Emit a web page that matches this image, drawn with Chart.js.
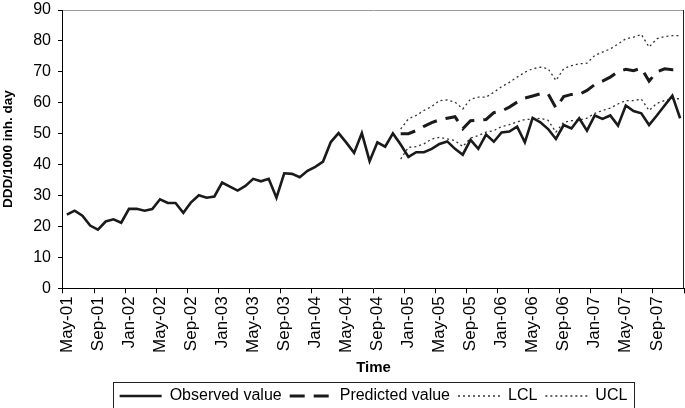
<!DOCTYPE html>
<html>
<head>
<meta charset="utf-8">
<script src="https://cdn.jsdelivr.net/npm/chart.js@4.4.1/dist/chart.umd.min.js"></script>
<style>
  html, body { margin: 0; padding: 0; background: #fff; }
  #wrap { width: 685px; height: 408px; }
</style>
</head>
<body>
<div id="wrap"><canvas id="chart" width="685" height="408"></canvas></div>
<script>
const monthNames = ["Jan", "Feb", "Mar", "Apr", "May", "Jun", "Jul", "Aug", "Sep", "Oct", "Nov", "Dec"];

// monthly series, May-01 .. Dec-07
const observed = [
  23.8, 25.1, 23.5, 20.3, 19.0, 21.6, 22.3, 21.2,
  25.7, 25.7, 25.1, 25.6, 28.8, 27.6, 27.6, 24.4, 27.8, 30.1, 29.3, 29.7,
  34.2, 32.9, 31.6, 33.1, 35.4, 34.6, 35.4, 29.3, 37.2, 37.0, 35.9, 38.0,
  39.3, 41.0, 47.3, 50.2, 47.1, 43.8, 50.2, 41.1, 47.2, 45.8, 50.1, 46.5,
  42.5, 44.0, 44.0, 45.1, 46.7, 47.5, 45.1, 43.2, 48.0, 45.1, 49.7, 47.4,
  50.4, 50.7, 52.3, 47.2, 55.1, 53.7, 51.5, 48.3, 52.8, 51.7, 55.0, 51.0,
  55.9, 54.8, 55.9, 52.6, 59.1, 57.3, 56.6, 52.8, 55.9, 59.1, 62.3, 55.0,
];

// forecast part starts at Dec-04 (everything before it is empty)
const forecastStart = 43;
const predicted = [
  50.0, 50.0, 51.0, 52.4, 53.6, 54.5, 55.0, 55.5, 51.6, 54.2, 54.4, 54.6,
  56.8, 57.3, 58.6, 60.2, 61.5, 62.2, 62.9, 62.9, 58.3, 62.0, 62.7, 62.7,
  64.0, 65.9, 67.0, 68.3, 70.0, 70.8, 70.4, 71.2, 67.0, 70.0, 71.0, 70.7, 70.8,
];
const lcl = [
  41.8, 45.6, 45.8, 46.7, 48.3, 48.8, 48.3, 47.8, 45.8, 48.6, 49.4, 50.5,
  51.0, 52.3, 52.9, 53.8, 54.6, 54.7, 55.0, 54.3, 50.5, 53.7, 54.2, 54.4,
  55.0, 56.6, 57.5, 58.3, 59.6, 60.7, 60.7, 61.2, 57.5, 59.8, 60.7, 61.3, 61.3,
];
const ucl = [
  51.5, 54.8, 55.9, 57.5, 58.8, 60.7, 60.9, 60.2, 58.0, 61.2, 61.8, 61.8,
  63.4, 65.2, 66.6, 68.3, 69.9, 71.0, 71.5, 71.0, 67.2, 71.0, 72.0, 72.6,
  72.8, 75.3, 76.4, 77.4, 79.0, 80.7, 81.2, 82.1, 78.0, 80.7, 81.4, 81.7, 81.7,
];

const yTicks = [0, 10, 20, 30, 40, 50, 60, 70, 80, 90];

const labels = observed.map((_, i) => {
  const m = (4 + i) % 12;
  const yr = 1 + Math.floor((4 + i) / 12);
  return `${monthNames[m]}-${String(yr).padStart(2, "0")}`;
});

function padForecast(values) {
  return Array(forecastStart).fill(null).concat(values);
}

const FONT = "'Liberation Sans', Arial, sans-serif";
const INK = "#1a1a1a";

// frame on top/right of the plot, box around the legend
const framePlugin = {
  id: "frame",
  afterDraw(chart) {
    const { ctx, chartArea } = chart;
    ctx.save();
    ctx.lineWidth = 1;
    ctx.strokeStyle = "#9a9a9a";
    ctx.beginPath();
    ctx.moveTo(chartArea.left, Math.round(chartArea.top) + 0.5);
    ctx.lineTo(chartArea.right, Math.round(chartArea.top) + 0.5);
    ctx.stroke();
    ctx.strokeStyle = "#222";
    ctx.beginPath();
    ctx.moveTo(chartArea.right - 0.5, chartArea.top);
    ctx.lineTo(chartArea.right - 0.5, chartArea.bottom);
    ctx.stroke();

    const boxes = chart.legend.legendHitBoxes;
    if (boxes && boxes.length) {
      const left = Math.min(...boxes.map((b) => b.left)) - 7;
      const right = Math.max(...boxes.map((b) => b.left + b.width)) + 6;
      const top = Math.min(...boxes.map((b) => b.top)) - 6;
      const bottom = Math.max(...boxes.map((b) => b.top + b.height)) + 5;
      ctx.strokeStyle = "#222";
      ctx.strokeRect(Math.round(left) + 0.5, Math.round(top) + 0.5, Math.round(right - left), Math.round(bottom - top));
    }
    ctx.restore();
  },
};

new Chart(document.getElementById("chart").getContext("2d"), {
  type: "line",
  data: {
    labels,
    datasets: [
      { label: "Observed value", data: observed, borderColor: INK, borderWidth: 2.6 },
      { label: "Predicted value", data: padForecast(predicted), borderColor: INK, borderWidth: 3, borderDash: [15, 9] },
      { label: "LCL", data: padForecast(lcl), borderColor: "#333", borderWidth: 1.3, borderDash: [2, 3] },
      { label: "UCL", data: padForecast(ucl), borderColor: "#333", borderWidth: 1.3, borderDash: [2, 3] },
    ],
  },
  options: {
    responsive: false,
    animation: false,
    layout: { padding: { top: 0, right: 1, bottom: -6, left: 0 } },
    elements: { point: { radius: 0 }, line: { tension: 0, borderJoinStyle: "miter" } },
    scales: {
      x: {
        offset: true,
        afterFit(axis) {
          axis.paddingLeft = 0;
          axis.paddingRight = 0;
        },
        grid: {
          offset: true,
          drawOnChartArea: false,
          tickLength: 5,
          tickColor: (c) => (c.index === undefined || c.index % 4 === 0 ? "#000" : "rgba(0,0,0,0)"),
          color: "rgba(0,0,0,0)",
        },
        border: { color: "#000", width: 1 },
        ticks: {
          autoSkip: false,
          minRotation: 90,
          maxRotation: 90,
          padding: 3,
          color: "#000",
          font: { family: FONT, size: 17 },
          callback: (value, i) => (i % 4 === 0 ? labels[i] : ""),
        },
        title: {
          display: true,
          text: "Time",
          color: "#000",
          font: { family: FONT, size: 15, weight: "bold" },
          padding: { top: 3, bottom: 3 },
        },
      },
      y: {
        min: yTicks[0],
        max: yTicks[yTicks.length - 1],
        afterBuildTicks(axis) {
          axis.ticks = yTicks.map((v) => ({ value: v }));
        },
        afterFit(axis) {
          axis.paddingTop = 10;
          axis.paddingBottom = 0;
        },
        grid: { drawOnChartArea: false, tickLength: 5, tickColor: "#000" },
        border: { color: "#000", width: 1 },
        ticks: {
          padding: 7,
          color: "#000",
          font: { family: FONT, size: 16 },
        },
        title: {
          display: true,
          text: "DDD/1000 inh. day",
          color: "#000",
          font: { family: FONT, size: 13.5, weight: "bold" },
          padding: { top: 0, bottom: 10 },
        },
      },
    },
    plugins: {
      legend: {
        position: "bottom",
        fullSize: false,
        labels: {
          usePointStyle: true,
          pointStyleWidth: 42,
          padding: 8,
          color: "#000",
          font: { family: FONT, size: 16 },
          generateLabels: (chart) =>
            chart.data.datasets.map((ds, i) => ({
              text: ds.label,
              datasetIndex: i,
              pointStyle: "line",
              fillStyle: "rgba(0,0,0,0)",
              strokeStyle: ds.borderColor,
              lineWidth: ds.borderWidth,
              lineDash: ds.borderDash || [],
              fontColor: "#000",
              hidden: false,
            })),
        },
      },
      tooltip: { enabled: false },
    },
  },
  plugins: [framePlugin],
});
</script>
</body>
</html>
